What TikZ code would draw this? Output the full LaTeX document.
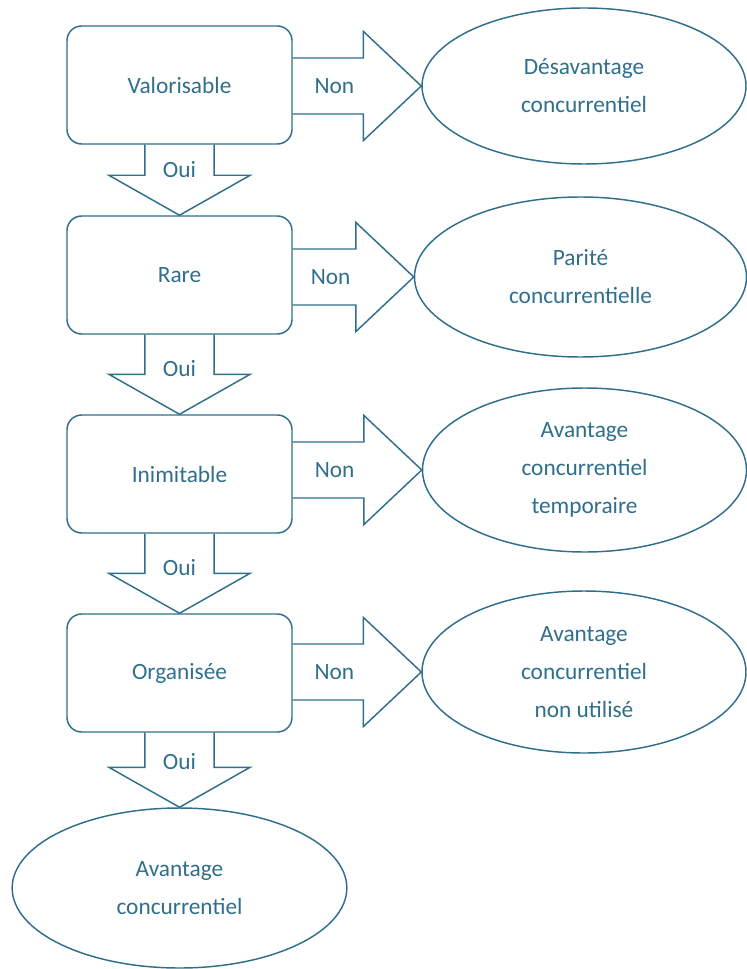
\documentclass[tikz,border=0pt]{standalone}
\usepackage{fontspec}
\setmainfont{Carlito}
\usetikzlibrary{calc,shapes.geometric}
\definecolor{vrioblue}{RGB}{47,111,140}

\newcommand{\ouiarrow}[2]{%
  \draw[bloc] let \p1=(#1.south), \p2=(#2.north) in
    (\x1-26pt,\y1) -- (\x1-26pt,\y2+30pt) -- (\x1-53pt,\y2+30pt) -- (\x2,\y2)
    -- (\x1+53pt,\y2+30pt) -- (\x1+26pt,\y2+30pt) -- (\x1+26pt,\y1)
    node[reponse, anchor=base] (#1oui) at (\x1,\y2+28pt) {Oui};}
\newcommand{\nonarrow}[2]{%
  \draw[bloc] let \p1=(#1.east), \p2=(#2.west) in
    (\x1,\y2+21pt) -- (\x2-43.5pt,\y2+21pt) -- (\x2-43.5pt,\y2+41pt) -- (\x2,\y2)
    -- (\x2-43.5pt,\y2-41pt) -- (\x2-43.5pt,\y2-21pt) -- (\x1,\y2-21pt)
    node[reponse] (#1non) at (0.5*\x1+0.5*\x2-17pt,\y2) {Non};}

\begin{document}
\begin{tikzpicture}[x=0.75pt,y=-0.75pt]
	\tikzset{critere/.style={draw=vrioblue, line width=1.1pt, rounded corners=11pt,
		minimum width=168.75pt, minimum height=88.5pt, text=vrioblue,
		font=\fontsize{17.5}{28}\selectfont},
	resultat/.style={ellipse, draw=vrioblue, line width=1.1pt, inner sep=0pt,
		align=center, text=vrioblue, font=\fontsize{17.5}{28.5}\selectfont},
	bloc/.style={draw=vrioblue, line width=1.1pt, line join=miter},
	reponse/.style={text=vrioblue, font=\fontsize{17.5}{28}\selectfont}}
	\useasboundingbox (0,0) rectangle (746,969);
	\node[critere] (val) at (179.5,85) {Valorisable};
	\node[critere] (rare) at (179.5,275) {Rare};
	\node[critere] (inim) at (179.5,474) {Inimitable};
	\node[critere] (orga) at (179.5,673) {Organisée};
	\node[resultat, minimum width=243pt, minimum height=117pt] (desav) at (584,86) {Désavantage\\concurrentiel};
	\node[resultat, minimum width=249pt, minimum height=120pt] (parite) at (580.5,277) {Parité\\concurrentielle};
	\node[resultat, minimum width=243pt, minimum height=123pt] (tempo) at (584.5,470) {Avantage\\concurrentiel\\temporaire};
	\node[resultat, minimum width=243pt, minimum height=121.5pt] (inutil) at (584,672) {Avantage\\concurrentiel\\non utilisé};
	\node[resultat, minimum width=251pt, minimum height=120pt] (avant) at (179.5,888) {Avantage\\concurrentiel};
	\nonarrow{val}{desav}
	\nonarrow{rare}{parite}
	\nonarrow{inim}{tempo}
	\nonarrow{orga}{inutil}
	\ouiarrow{val}{rare}
	\ouiarrow{rare}{inim}
	\ouiarrow{inim}{orga}
	\ouiarrow{orga}{avant}
\end{tikzpicture}
\end{document}
